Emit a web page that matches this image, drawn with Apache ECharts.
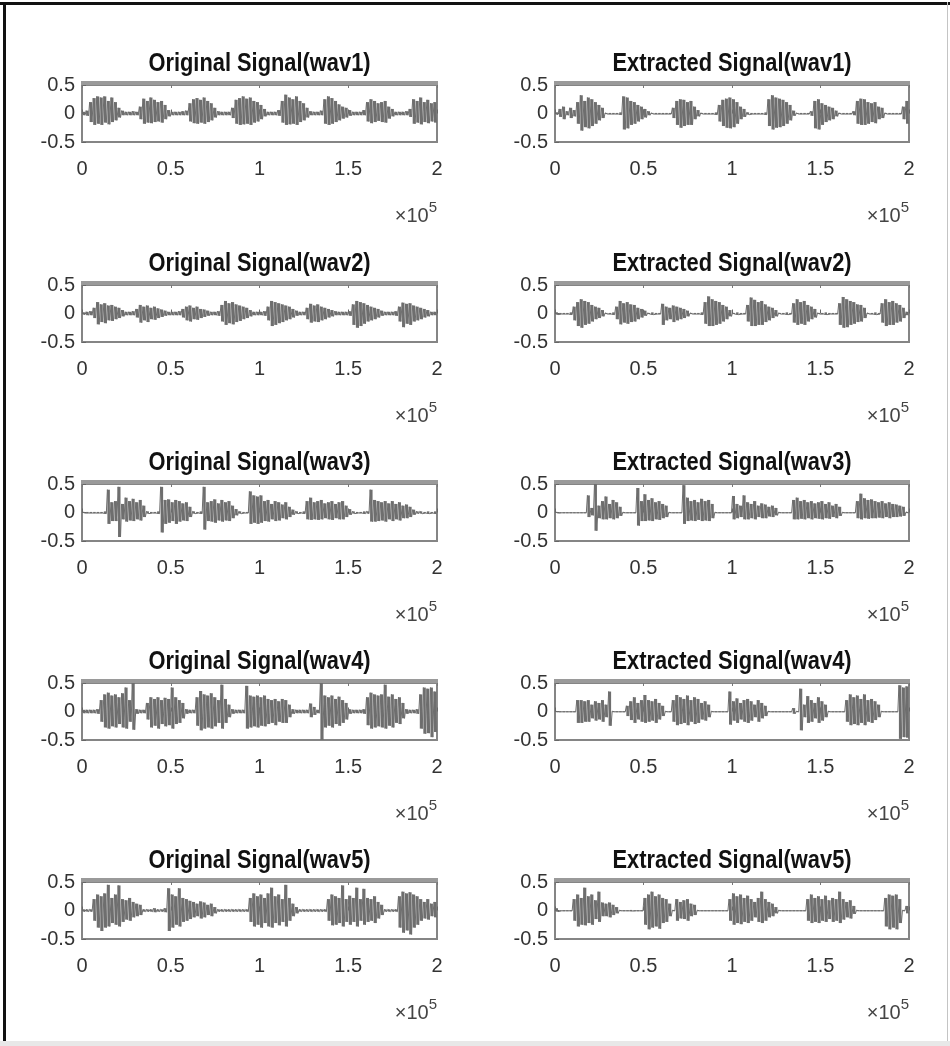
<!DOCTYPE html>
<html>
<head>
<meta charset="utf-8">
<script src="https://cdn.jsdelivr.net/npm/echarts@6/dist/echarts.min.js"></script>
<style>
html,body{margin:0;padding:0;background:#fff;}
#chart{width:950px;height:1046px;}
</style>
</head>
<body>
<div id="chart"></div>
<script>
// ---- data ----
const wavNames = ['wav1', 'wav2', 'wav3', 'wav4', 'wav5'];
const xTickLabels = ['0', '0.5', '1', '1.5', '2'];
const yTickLabels = ['-0.5', '0', '0.5'];
const binSize = 2000; // samples per envelope bin (100 bins over 2e5 samples)

// envelope per bin: positive peak / negative peak (magnitude)
const origWav1Pos = [0.03,0.05,0.2,0.27,0.3,0.28,0.3,0.22,0.28,0.2,
 0.1,0.05,0.03,0.03,0.04,0.03,0.12,0.26,0.22,0.28,
 0.24,0.2,0.22,0.15,0.06,0.03,0.03,0.03,0.04,0.05,
 0.18,0.25,0.27,0.24,0.28,0.22,0.18,0.1,0.04,0.03,
 0.03,0.03,0.1,0.24,0.27,0.3,0.26,0.28,0.22,0.2,
 0.15,0.08,0.03,0.03,0.03,0.06,0.22,0.33,0.28,0.25,
 0.3,0.22,0.18,0.1,0.04,0.03,0.03,0.05,0.25,0.3,
 0.27,0.22,0.16,0.12,0.1,0.06,0.03,0.03,0.03,0.06,
 0.2,0.25,0.22,0.18,0.2,0.22,0.12,0.08,0.03,0.03,
 0.03,0.04,0.08,0.25,0.22,0.28,0.2,0.24,0.18,0.2];
const origWav1Neg = [0.03,0.04,0.15,0.2,0.18,0.2,0.16,0.19,0.15,0.12,
 0.07,0.03,0.03,0.03,0.03,0.03,0.1,0.18,0.16,0.17,
 0.15,0.14,0.16,0.1,0.05,0.03,0.03,0.03,0.03,0.03,
 0.14,0.17,0.18,0.16,0.18,0.15,0.12,0.07,0.03,0.03,
 0.03,0.03,0.08,0.18,0.2,0.19,0.18,0.2,0.16,0.14,
 0.1,0.05,0.03,0.03,0.03,0.04,0.16,0.2,0.19,0.18,
 0.2,0.15,0.12,0.07,0.03,0.03,0.03,0.03,0.18,0.2,
 0.18,0.15,0.12,0.09,0.07,0.04,0.03,0.03,0.03,0.03,
 0.14,0.17,0.15,0.13,0.15,0.16,0.09,0.05,0.03,0.03,
 0.03,0.03,0.06,0.18,0.16,0.19,0.15,0.17,0.14,0.16];

const extWav1Pos = [0.02,0.08,0.12,0.04,0.1,0.06,0.2,0.32,0.22,0.28,
 0.25,0.2,0.15,0.1,0.01,0.01,0.01,0.01,0.02,0.3,
 0.28,0.22,0.2,0.15,0.12,0.08,0.04,0.01,0.01,0.01,
 0.01,0.01,0.01,0.1,0.22,0.25,0.24,0.2,0.22,0.12,
 0.06,0.01,0.01,0.01,0.01,0.02,0.15,0.24,0.26,0.28,
 0.25,0.2,0.12,0.08,0.02,0.01,0.01,0.01,0.01,0.02,
 0.25,0.32,0.28,0.26,0.24,0.2,0.15,0.05,0.01,0.01,
 0.01,0.01,0.04,0.22,0.25,0.18,0.15,0.12,0.1,0.05,
 0.01,0.01,0.01,0.01,0.04,0.22,0.26,0.25,0.2,0.18,
 0.2,0.12,0.1,0.01,0.01,0.01,0.01,0.01,0.12,0.22];
const extWav1Neg = [0.02,0.06,0.1,0.03,0.08,0.05,0.18,0.3,0.24,0.26,
 0.22,0.18,0.12,0.08,0.01,0.01,0.01,0.01,0.02,0.28,
 0.26,0.2,0.18,0.14,0.1,0.07,0.03,0.01,0.01,0.01,
 0.01,0.01,0.01,0.08,0.2,0.25,0.22,0.2,0.2,0.1,
 0.05,0.01,0.01,0.01,0.01,0.02,0.14,0.22,0.25,0.26,
 0.24,0.18,0.1,0.06,0.02,0.01,0.01,0.01,0.01,0.02,
 0.22,0.28,0.25,0.24,0.22,0.18,0.12,0.04,0.01,0.01,
 0.01,0.01,0.04,0.26,0.28,0.2,0.15,0.12,0.1,0.05,
 0.01,0.01,0.01,0.01,0.03,0.18,0.2,0.2,0.18,0.15,
 0.17,0.1,0.08,0.01,0.01,0.01,0.01,0.01,0.1,0.18];

const origWav2Pos = [0.02,0.03,0.04,0.1,0.2,0.16,0.18,0.14,0.15,0.12,
 0.1,0.06,0.03,0.03,0.04,0.08,0.15,0.12,0.14,0.1,
 0.12,0.09,0.07,0.05,0.03,0.03,0.03,0.04,0.08,0.12,
 0.14,0.1,0.12,0.08,0.07,0.05,0.03,0.03,0.04,0.15,
 0.22,0.18,0.2,0.16,0.14,0.12,0.1,0.06,0.03,0.03,
 0.03,0.04,0.12,0.22,0.2,0.18,0.16,0.14,0.12,0.08,
 0.05,0.03,0.03,0.1,0.17,0.14,0.16,0.12,0.1,0.08,
 0.06,0.04,0.03,0.03,0.03,0.04,0.16,0.22,0.2,0.18,
 0.15,0.12,0.1,0.08,0.05,0.03,0.03,0.03,0.04,0.12,
 0.19,0.17,0.18,0.14,0.12,0.1,0.08,0.06,0.03,0.03];
const origWav2Neg = [0.02,0.03,0.03,0.08,0.19,0.15,0.17,0.12,0.13,0.1,
 0.08,0.05,0.03,0.03,0.03,0.07,0.16,0.12,0.15,0.1,
 0.11,0.08,0.06,0.04,0.03,0.03,0.03,0.03,0.07,0.12,
 0.14,0.1,0.11,0.08,0.06,0.04,0.03,0.03,0.04,0.14,
 0.2,0.17,0.19,0.15,0.13,0.1,0.08,0.05,0.03,0.03,
 0.03,0.04,0.12,0.22,0.2,0.17,0.15,0.12,0.1,0.07,
 0.04,0.03,0.03,0.1,0.16,0.14,0.15,0.12,0.1,0.07,
 0.05,0.03,0.03,0.03,0.03,0.04,0.2,0.25,0.22,0.18,
 0.14,0.12,0.1,0.07,0.04,0.03,0.03,0.03,0.04,0.14,
 0.24,0.18,0.2,0.14,0.12,0.1,0.07,0.05,0.03,0.03];

const extWav2Pos = [0.02,0.01,0.01,0.01,0.02,0.12,0.2,0.25,0.22,0.2,
 0.15,0.12,0.1,0.06,0.01,0.01,0.02,0.12,0.22,0.18,
 0.2,0.16,0.15,0.1,0.08,0.05,0.01,0.02,0.01,0.01,
 0.17,0.12,0.1,0.14,0.12,0.1,0.08,0.05,0.01,0.01,
 0.01,0.02,0.2,0.3,0.25,0.22,0.2,0.15,0.12,0.06,
 0.01,0.02,0.01,0.01,0.15,0.28,0.24,0.2,0.22,0.16,
 0.12,0.1,0.06,0.01,0.01,0.02,0.01,0.18,0.25,0.2,
 0.22,0.15,0.12,0.08,0.01,0.01,0.02,0.01,0.01,0.01,
 0.18,0.29,0.25,0.22,0.2,0.16,0.15,0.1,0.01,0.01,
 0.02,0.01,0.18,0.25,0.2,0.22,0.18,0.15,0.1,0.03];
const extWav2Neg = [0.02,0.01,0.01,0.01,0.02,0.12,0.22,0.25,0.2,0.18,
 0.14,0.1,0.08,0.05,0.01,0.01,0.02,0.1,0.19,0.16,
 0.18,0.15,0.14,0.1,0.07,0.04,0.01,0.02,0.01,0.01,
 0.2,0.12,0.1,0.15,0.12,0.1,0.08,0.05,0.01,0.01,
 0.01,0.02,0.18,0.22,0.22,0.2,0.18,0.14,0.1,0.05,
 0.01,0.02,0.01,0.01,0.14,0.22,0.22,0.2,0.2,0.15,
 0.12,0.08,0.05,0.01,0.01,0.02,0.01,0.16,0.2,0.18,
 0.2,0.14,0.1,0.07,0.01,0.01,0.02,0.01,0.01,0.01,
 0.2,0.25,0.24,0.2,0.18,0.15,0.14,0.08,0.01,0.01,
 0.02,0.01,0.16,0.22,0.2,0.2,0.16,0.14,0.08,0.03];

const origWav3Pos = [0.01,0.01,0.01,0.01,0.01,0.01,0.02,0.4,0.18,0.2,
 0.45,0.15,0.26,0.2,0.24,0.18,0.22,0.12,0.02,0.01,
 0.01,0.02,0.45,0.22,0.23,0.18,0.22,0.2,0.16,0.18,
 0.1,0.02,0.01,0.02,0.45,0.18,0.2,0.23,0.16,0.22,
 0.18,0.2,0.12,0.06,0.02,0.01,0.01,0.37,0.3,0.28,
 0.3,0.2,0.22,0.15,0.2,0.18,0.14,0.18,0.1,0.05,
 0.02,0.01,0.02,0.2,0.26,0.18,0.2,0.22,0.16,0.18,
 0.2,0.15,0.18,0.2,0.12,0.06,0.02,0.01,0.01,0.02,
 0.02,0.4,0.22,0.2,0.18,0.2,0.16,0.2,0.15,0.18,
 0.12,0.14,0.1,0.05,0.02,0.02,0.01,0.02,0.01,0.02];
const origWav3Neg = [0.01,0.01,0.01,0.01,0.01,0.01,0.02,0.2,0.15,0.15,
 0.43,0.12,0.16,0.14,0.15,0.12,0.14,0.08,0.02,0.01,
 0.01,0.02,0.35,0.2,0.18,0.15,0.2,0.16,0.14,0.15,
 0.08,0.02,0.01,0.02,0.3,0.15,0.16,0.18,0.14,0.16,
 0.14,0.15,0.1,0.05,0.02,0.01,0.01,0.2,0.18,0.2,
 0.18,0.15,0.16,0.12,0.15,0.14,0.1,0.12,0.08,0.04,
 0.02,0.01,0.02,0.12,0.13,0.12,0.13,0.12,0.1,0.12,
 0.13,0.1,0.12,0.12,0.08,0.04,0.02,0.01,0.01,0.02,
 0.02,0.16,0.16,0.15,0.14,0.16,0.12,0.15,0.12,0.14,
 0.1,0.1,0.08,0.04,0.02,0.02,0.01,0.02,0.01,0.02];

const extWav3Pos = [0.01,0.005,0.005,0.005,0.005,0.005,0.005,0.005,0.005,0.3,
 0.08,0.5,0.12,0.2,0.28,0.15,0.22,0.18,0.1,0.005,
 0.005,0.005,0.005,0.43,0.2,0.32,0.22,0.25,0.18,0.2,
 0.15,0.12,0.005,0.005,0.005,0.005,0.48,0.26,0.2,0.22,
 0.18,0.24,0.2,0.22,0.15,0.005,0.005,0.005,0.005,0.005,
 0.29,0.15,0.12,0.3,0.18,0.15,0.2,0.12,0.16,0.14,
 0.1,0.12,0.08,0.005,0.005,0.005,0.005,0.22,0.26,0.2,
 0.22,0.18,0.2,0.16,0.18,0.2,0.15,0.18,0.12,0.15,
 0.1,0.005,0.005,0.005,0.005,0.2,0.33,0.25,0.22,0.23,
 0.2,0.18,0.2,0.16,0.18,0.15,0.14,0.12,0.1,0.01];
const extWav3Neg = [0.01,0.005,0.005,0.005,0.005,0.005,0.005,0.005,0.005,0.08,
 0.05,0.32,0.1,0.12,0.12,0.1,0.12,0.1,0.06,0.005,
 0.005,0.005,0.005,0.23,0.15,0.15,0.14,0.15,0.12,0.13,
 0.1,0.08,0.005,0.005,0.005,0.005,0.2,0.15,0.14,0.15,
 0.13,0.15,0.14,0.15,0.1,0.005,0.005,0.005,0.005,0.005,
 0.12,0.1,0.08,0.12,0.12,0.1,0.12,0.08,0.1,0.1,
 0.07,0.08,0.05,0.005,0.005,0.005,0.005,0.12,0.12,0.11,
 0.12,0.1,0.12,0.1,0.11,0.12,0.1,0.11,0.08,0.1,
 0.06,0.005,0.005,0.005,0.005,0.1,0.12,0.1,0.11,0.1,
 0.1,0.09,0.1,0.08,0.1,0.08,0.08,0.07,0.06,0.01];

const origWav4Pos = [0.03,0.03,0.03,0.03,0.04,0.2,0.3,0.33,0.28,0.3,
 0.25,0.32,0.42,0.2,0.5,0.04,0.03,0.03,0.15,0.25,
 0.22,0.25,0.2,0.24,0.22,0.42,0.25,0.2,0.15,0.04,
 0.03,0.03,0.25,0.36,0.3,0.28,0.32,0.25,0.2,0.47,
 0.22,0.12,0.04,0.03,0.03,0.03,0.45,0.28,0.26,0.28,
 0.25,0.28,0.22,0.2,0.22,0.18,0.22,0.2,0.12,0.04,
 0.03,0.03,0.03,0.03,0.14,0.08,0.03,0.5,0.28,0.25,
 0.28,0.22,0.26,0.2,0.15,0.04,0.03,0.03,0.03,0.04,
 0.25,0.33,0.3,0.28,0.3,0.47,0.26,0.3,0.22,0.25,
 0.15,0.04,0.03,0.03,0.04,0.3,0.42,0.4,0.42,0.35];
const origWav4Neg = [0.03,0.03,0.03,0.03,0.04,0.18,0.28,0.3,0.26,0.28,
 0.22,0.28,0.3,0.18,0.32,0.04,0.03,0.03,0.14,0.28,
 0.25,0.3,0.22,0.26,0.24,0.3,0.22,0.2,0.12,0.04,
 0.03,0.03,0.25,0.33,0.3,0.28,0.3,0.26,0.2,0.3,
 0.2,0.1,0.04,0.03,0.03,0.03,0.3,0.28,0.26,0.28,
 0.25,0.26,0.22,0.2,0.24,0.18,0.2,0.2,0.1,0.04,
 0.03,0.03,0.03,0.03,0.1,0.06,0.03,0.5,0.28,0.25,
 0.28,0.22,0.25,0.2,0.14,0.04,0.03,0.03,0.03,0.04,
 0.24,0.3,0.28,0.26,0.28,0.3,0.25,0.28,0.2,0.22,
 0.12,0.04,0.03,0.03,0.04,0.3,0.39,0.38,0.45,0.36];

const extWav4Pos = [0.005,0.005,0.005,0.005,0.005,0.005,0.2,0.2,0.18,0.2,
 0.12,0.18,0.15,0.2,0.12,0.35,0.005,0.005,0.005,0.005,
 0.1,0.18,0.25,0.15,0.2,0.29,0.2,0.18,0.22,0.15,
 0.1,0.005,0.005,0.2,0.29,0.25,0.22,0.28,0.2,0.25,
 0.22,0.15,0.18,0.12,0.005,0.005,0.005,0.005,0.005,0.35,
 0.18,0.23,0.15,0.2,0.22,0.18,0.12,0.2,0.15,0.1,
 0.005,0.005,0.005,0.005,0.005,0.005,0.005,0.06,0.005,0.4,
 0.12,0.27,0.2,0.15,0.25,0.18,0.12,0.005,0.005,0.005,
 0.005,0.005,0.2,0.3,0.25,0.28,0.22,0.3,0.2,0.22,
 0.18,0.12,0.005,0.005,0.005,0.005,0.005,0.46,0.42,0.44];
const extWav4Neg = [0.005,0.005,0.005,0.005,0.005,0.005,0.2,0.2,0.18,0.18,
 0.12,0.16,0.14,0.18,0.1,0.25,0.005,0.005,0.005,0.005,
 0.08,0.15,0.2,0.14,0.18,0.2,0.18,0.16,0.2,0.14,
 0.08,0.005,0.005,0.18,0.24,0.22,0.2,0.24,0.18,0.22,
 0.2,0.14,0.16,0.1,0.005,0.005,0.005,0.005,0.005,0.23,
 0.16,0.2,0.14,0.18,0.2,0.16,0.1,0.18,0.12,0.08,
 0.005,0.005,0.005,0.005,0.005,0.005,0.005,0.04,0.005,0.33,
 0.1,0.2,0.18,0.12,0.2,0.16,0.1,0.005,0.005,0.005,
 0.005,0.005,0.18,0.24,0.22,0.24,0.2,0.24,0.18,0.2,
 0.15,0.1,0.005,0.005,0.005,0.005,0.005,0.48,0.45,0.46];

const origWav5Pos = [0.02,0.02,0.02,0.2,0.28,0.25,0.3,0.45,0.22,0.28,
 0.44,0.2,0.18,0.22,0.15,0.12,0.1,0.02,0.02,0.02,
 0.04,0.02,0.02,0.04,0.39,0.28,0.25,0.39,0.22,0.2,
 0.17,0.15,0.12,0.16,0.14,0.1,0.12,0.06,0.02,0.02,
 0.02,0.02,0.02,0.02,0.02,0.02,0.02,0.22,0.3,0.25,
 0.28,0.22,0.3,0.4,0.25,0.28,0.2,0.45,0.22,0.12,
 0.06,0.02,0.02,0.02,0.02,0.02,0.02,0.02,0.02,0.2,
 0.28,0.25,0.22,0.44,0.2,0.26,0.22,0.4,0.2,0.38,
 0.22,0.2,0.25,0.15,0.1,0.02,0.02,0.02,0.02,0.25,
 0.33,0.3,0.32,0.28,0.25,0.2,0.15,0.2,0.12,0.15];
const origWav5Neg = [0.02,0.02,0.02,0.18,0.3,0.36,0.3,0.28,0.22,0.25,
 0.28,0.2,0.16,0.18,0.12,0.1,0.08,0.02,0.02,0.02,
 0.03,0.02,0.02,0.03,0.36,0.3,0.25,0.28,0.2,0.18,
 0.15,0.12,0.1,0.14,0.12,0.08,0.1,0.05,0.02,0.02,
 0.02,0.02,0.02,0.02,0.02,0.02,0.02,0.2,0.28,0.25,
 0.3,0.22,0.28,0.3,0.22,0.26,0.2,0.28,0.18,0.1,
 0.05,0.02,0.02,0.02,0.02,0.02,0.02,0.02,0.02,0.18,
 0.26,0.25,0.22,0.28,0.2,0.25,0.2,0.28,0.18,0.25,
 0.2,0.18,0.22,0.14,0.08,0.02,0.02,0.02,0.02,0.3,
 0.39,0.35,0.42,0.3,0.25,0.18,0.14,0.16,0.1,0.12];

const extWav5Pos = [0.04,0.005,0.005,0.005,0.005,0.2,0.28,0.22,0.4,0.25,
 0.28,0.18,0.33,0.14,0.12,0.14,0.1,0.06,0.005,0.005,
 0.005,0.01,0.005,0.005,0.005,0.22,0.28,0.33,0.25,0.28,
 0.22,0.2,0.12,0.005,0.2,0.15,0.18,0.2,0.12,0.1,
 0.005,0.005,0.005,0.005,0.005,0.005,0.005,0.005,0.005,0.2,
 0.3,0.25,0.28,0.22,0.26,0.2,0.15,0.22,0.33,0.2,
 0.15,0.12,0.06,0.005,0.005,0.005,0.005,0.005,0.005,0.005,
 0.005,0.2,0.28,0.22,0.25,0.2,0.26,0.18,0.22,0.2,
 0.33,0.2,0.15,0.18,0.08,0.005,0.005,0.005,0.005,0.005,
 0.005,0.005,0.005,0.22,0.28,0.26,0.28,0.2,0.005,0.08];
const extWav5Neg = [0.02,0.005,0.005,0.005,0.005,0.18,0.28,0.25,0.26,0.22,
 0.25,0.15,0.2,0.1,0.1,0.12,0.08,0.05,0.005,0.005,
 0.005,0.01,0.005,0.005,0.005,0.25,0.33,0.3,0.28,0.32,
 0.22,0.2,0.1,0.005,0.18,0.14,0.15,0.18,0.1,0.08,
 0.005,0.005,0.005,0.005,0.005,0.005,0.005,0.005,0.005,0.18,
 0.25,0.22,0.24,0.2,0.22,0.18,0.12,0.2,0.22,0.18,
 0.12,0.1,0.05,0.005,0.005,0.005,0.005,0.005,0.005,0.005,
 0.005,0.18,0.22,0.2,0.22,0.18,0.2,0.15,0.2,0.18,
 0.22,0.16,0.12,0.14,0.06,0.005,0.005,0.005,0.005,0.005,
 0.005,0.005,0.005,0.28,0.33,0.3,0.33,0.22,0.005,0.05];

const original = [[origWav1Pos, origWav1Neg], [origWav2Pos, origWav2Neg], [origWav3Pos, origWav3Neg], [origWav4Pos, origWav4Neg], [origWav5Pos, origWav5Neg]];
const extracted = [[extWav1Pos, extWav1Neg], [extWav2Pos, extWav2Neg], [extWav3Pos, extWav3Neg], [extWav4Pos, extWav4Neg], [extWav5Pos, extWav5Neg]];

// ---- layout ----
const colLeft = [82, 555];
const colWidth = [355, 354];
const rowTop = [85, 285, 484, 683, 882];
const plotH = 57;
const waveColor = '#6e6e6e';
const boxColor = '#858585';
const labelColor = '#333333';
const fontFam = '"Liberation Sans", Arial, sans-serif';

// trace through each bin's peaks (edges of the bin's stroke)
function envelope(pos, neg) {
  const d = [];
  const n = Math.min(pos.length, neg.length);
  for (let i = 0; i < n; i++) {
    d.push([i * binSize + binSize * 0.15, pos[i]]);
    d.push([i * binSize + binSize * 0.85, -neg[i]]);
  }
  return d;
}
// one vertical stroke per bin, from -neg to +pos
function strokes(pos, neg) {
  const d = [];
  const n = Math.min(pos.length, neg.length);
  for (let i = 0; i < n; i++) d.push([i * binSize + binSize * 0.15, i * binSize + binSize * 0.85, pos[i], -neg[i]]);
  return d;
}
function renderStroke(params, api) {
  const a = api.coord([api.value(0), api.value(2)]);
  const b = api.coord([api.value(1), api.value(3)]);
  return {type: 'rect', shape: {x: a[0], y: a[1], width: b[0] - a[0], height: Math.max(1, b[1] - a[1])}, style: {fill: waveColor}};
}

const grids = [], xAxes = [], yAxes = [], series = [], graphics = [];
let k = 0;
for (let r = 0; r < 5; r++) {
  for (let c = 0; c < 2; c++) {
    const left = colLeft[c], w = colWidth[c], top = rowTop[r];
    grids.push({left: left, top: top, width: w, height: plotH, show: true, borderColor: boxColor, borderWidth: 2, backgroundColor: '#fff'});
    xAxes.push({
      type: 'value', gridIndex: k, min: 0, max: 200000, interval: 50000, position: 'bottom',
      axisLine: {show: false}, splitLine: {show: false},
      axisTick: {show: true, inside: true, length: 4, lineStyle: {color: '#666'}},
      axisLabel: {show: true, margin: 17, color: labelColor, fontSize: 20, fontFamily: fontFam,
        formatter: v => xTickLabels[Math.round(v / 50000)]}
    });
    xAxes.push({
      type: 'value', gridIndex: k, min: 0, max: 200000, interval: 50000, position: 'top',
      axisLine: {show: false}, splitLine: {show: false},
      axisTick: {show: true, inside: true, length: 3, lineStyle: {color: '#777'}},
      axisLabel: {show: false}
    });
    yAxes.push({
      type: 'value', gridIndex: k, min: -0.5, max: 0.5, interval: 0.5,
      axisLine: {show: false}, splitLine: {show: false},
      axisTick: {show: true, inside: true, length: 4, lineStyle: {color: '#666'}},
      axisLabel: {show: true, margin: 7, color: labelColor, fontSize: 20, fontFamily: fontFam,
        formatter: v => yTickLabels[Math.round((v + 0.5) / 0.5)]}
    });
    const src = c === 0 ? original[r] : extracted[r];
    series.push({
      type: 'custom', xAxisIndex: 2 * k, yAxisIndex: k, data: strokes(src[0], src[1]),
      renderItem: renderStroke, encode: {x: [0, 1], y: [2, 3]}, silent: true, z: 2, clip: true
    });
    series.push({
      type: 'line', xAxisIndex: 2 * k, yAxisIndex: k, data: envelope(src[0], src[1]),
      showSymbol: false, symbol: 'none', lineStyle: {color: waveColor, width: 1}, silent: true, z: 3
    });
    const name = (c === 0 ? 'Original Signal(' : 'Extracted Signal(') + wavNames[r] + ')';
    graphics.push({
      type: 'text', x: left + w / 2, y: top - 21, scaleX: 0.84, silent: true,
      style: {text: name, fill: '#111', font: 'bold 26px ' + fontFam, align: 'center', verticalAlign: 'middle'}
    });
    graphics.push({
      type: 'rect', shape: {x: left - 1, y: top - 4, width: w + 2, height: 4}, silent: true,
      style: {fill: '#9a9a9a'}
    });
    graphics.push({
      type: 'text', x: left + w, y: top + plotH + 71, silent: true,
      style: {
        text: '{a|×10}{b|5}', align: 'right', verticalAlign: 'middle',
        rich: {
          a: {fontSize: 20, fontFamily: fontFam, fill: '#444', lineHeight: 26, verticalAlign: 'bottom'},
          b: {fontSize: 15, fontFamily: fontFam, fill: '#444', lineHeight: 26, verticalAlign: 'top'}
        }
      }
    });
    k++;
  }
}

// figure frame
graphics.push({type: 'line', shape: {x1: 0, y1: 3.5, x2: 950, y2: 3.5}, style: {stroke: '#111', lineWidth: 3}, silent: true});
graphics.push({type: 'line', shape: {x1: 4.5, y1: 2, x2: 4.5, y2: 1046}, style: {stroke: '#111', lineWidth: 3}, silent: true});
graphics.push({type: 'line', shape: {x1: 947.5, y1: 2, x2: 947.5, y2: 1046}, style: {stroke: '#c4c4c4', lineWidth: 1}, silent: true});
graphics.push({type: 'rect', shape: {x: 0, y: 1041, width: 950, height: 5}, style: {fill: '#e8e8e8'}, silent: true});

const chart = echarts.init(document.getElementById('chart'), null, {renderer: 'canvas'});
chart.setOption({
  animation: false,
  backgroundColor: '#ffffff',
  grid: grids,
  xAxis: xAxes,
  yAxis: yAxes,
  series: series,
  graphic: graphics
});
</script>
</body>
</html>
